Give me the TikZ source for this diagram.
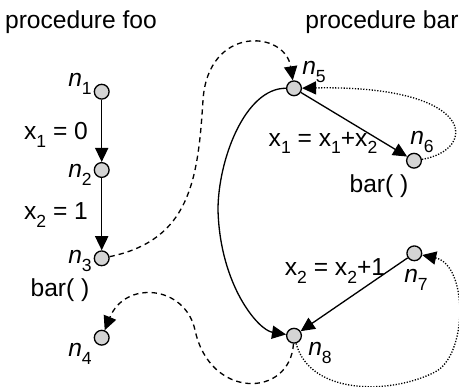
\documentclass[tikz,border=0pt]{standalone}
\usepackage{fontspec}
\setmainfont{Liberation Sans}
\usetikzlibrary{arrows.meta}

\newcommand{\idx}[1]{\raisebox{-0.3em}{\fontsize{10}{10}\selectfont #1}}

\begin{document}
\begin{tikzpicture}[x=0.02cm, y=-0.02cm,
    font=\fontsize{14}{16}\selectfont,
    state/.style={circle, draw, fill=black!17, line width=0.75pt,
        minimum size=8.4pt, inner sep=0pt},
    flow/.style={-{Triangle[length=8pt,width=7.5pt]}, line width=0.75pt},
    call/.style={flow, dash pattern=on 3pt off 2.3pt},
    ret/.style={flow, dash pattern=on 0.7pt off 0.9pt}]

    \useasboundingbox (0,0) rectangle (459,386);

    % Titles of the two procedures
    \node (foo) at (81,22) {procedure foo};
    \node (bar) at (382,22) {procedure bar};

    % Nodes of procedure foo
    \node[state] (n1) at (101.7,91.7) {};
    \node[state] (n2) at (101.7,170) {};
    \node[state] (n3) at (101.7,258.3) {};
    \node[state] (n4) at (101.7,337.7) {};

    % Nodes of procedure bar
    \node[state] (n5) at (294,88.3) {};
    \node[state] (n6) at (414,160.7) {};
    \node[state] (n7) at (414.3,253.3) {};
    \node[state] (n8) at (294,335.7) {};

    % Node names
    \node (l1) at (80,84) {\textit{n}\idx{1}};
    \node (l2) at (80,175) {\textit{n}\idx{2}};
    \node (l3) at (80,261) {\textit{n}\idx{3}};
    \node (l4) at (80,354) {\textit{n}\idx{4}};
    \node (l5) at (314,72) {\textit{n}\idx{5}};
    \node (l6) at (422,142) {\textit{n}\idx{6}};
    \node (l7) at (416,280) {\textit{n}\idx{7}};
    \node (l8) at (320,353) {\textit{n}\idx{8}};

    % Statements
    \node (s1) at (56,135) {x\idx{1} = 0};
    \node (s2) at (56,215) {x\idx{2} = 1};
    \node (c1) at (60,290) {bar( )};
    \node (s3) at (323,143) {x\idx{1} = x\idx{1}+x\idx{2}};
    \node (c2) at (379,186) {bar( )};
    \node (s4) at (335,271) {x\idx{2} = x\idx{2}+1};

    % Intraprocedural edges
    \draw[flow] (n1) -- (n2);
    \draw[flow] (n2) -- (n3);
    \draw[flow] (n5) -- (n6);
    \draw[flow] (n7) -- (n8);
    \draw[flow] (n5) .. controls (245,88) and (218,160) .. (218,210)
        .. controls (220,285) and (258,330) .. (n8);

    % Call and return edges
    \draw[call] (n3) .. controls (190,240) and (198,180) .. (203,100)
        .. controls (208,25) and (285,30) .. (n5);
    \draw[call] (n8) .. controls (290,398) and (210,400) .. (195,330)
        .. controls (185,285) and (125,280) .. (n4);

    % Recursive returns
    \draw[ret] (n6) .. controls (478,150) and (478,85) .. (n5);
    \draw[ret] (n8) .. controls (310,395) and (390,395) .. (435,372)
        .. controls (468,355) and (468,265) .. (n7);

\end{tikzpicture}
\end{document}
